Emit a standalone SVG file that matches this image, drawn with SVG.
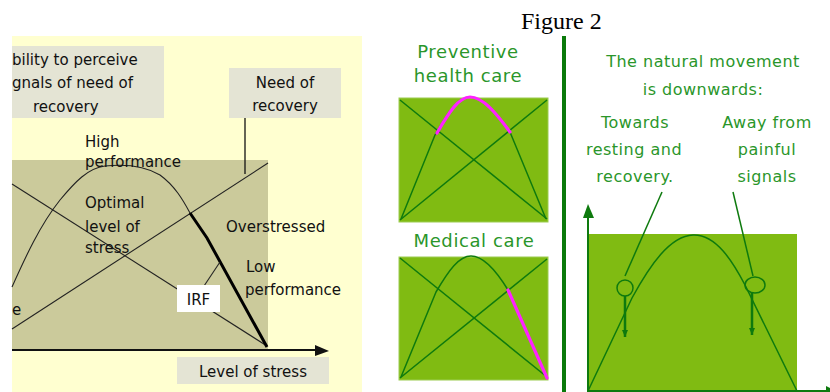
<svg xmlns="http://www.w3.org/2000/svg" width="830" height="392" viewBox="0 0 830 392">
  <style>
    .lbl { font-family: "DejaVu Sans", "Liberation Sans", sans-serif; font-size: 15px; fill: #111; }
    .mid { text-anchor: middle; }
    .grn { font-family: "DejaVu Sans", "Liberation Sans", sans-serif; fill: #2a962a; text-anchor: middle; }
    .thin { fill: none; stroke: #222; stroke-width: 1.1; }
    .dg { fill: none; stroke: #0e7a0e; stroke-width: 1.5; }
    .mag { fill: none; stroke: #ff22ff; stroke-width: 3.2; stroke-linecap: round; stroke-linejoin: round; }
    .panel { fill: #80bb12; }
  </style>
  <defs>
    <marker id="tipDown" markerWidth="8" markerHeight="8" refX="4" refY="7" orient="0" markerUnits="userSpaceOnUse">
      <path d="M1,0 L4,7 L7,0 Z" fill="#0e7a0e"/>
    </marker>
  </defs>

  <rect width="830" height="392" fill="#ffffff"/>

  <!-- left panel: stress and performance chart -->
  <g id="stress-chart">
    <rect x="12" y="36" width="350" height="356" fill="#ffffd0"/>
    <rect x="12" y="160" width="256" height="189" fill="#cbca9b"/>
  </g>

  <g id="box-ability">
    <rect x="12" y="46" width="152" height="72" fill="#e4e4d4"/>
    <text class="lbl" x="12" y="65">bility to perceive</text>
    <text class="lbl" x="12" y="88">gnals of need of</text>
    <text class="lbl" x="33" y="112">recovery</text>
  </g>

  <g id="box-need">
    <rect x="229" y="68" width="112" height="50" fill="#e4e4d4"/>
    <text class="lbl mid" x="285" y="88">Need of</text>
    <text class="lbl mid" x="285" y="111">recovery</text>
  </g>

  <!-- middle panel: two small charts -->
  <g id="preventive">
    <text class="grn" x="468" y="58" font-size="18" letter-spacing="0.6">Preventive</text>
    <text class="grn" x="468" y="82" font-size="18" letter-spacing="0.6">health care</text>
    <rect class="panel" x="399" y="98" width="149" height="124" stroke="#9ccc50" stroke-width="1"/>
  </g>
  <g id="medical">
    <text class="grn" x="474" y="247" font-size="18" letter-spacing="0.6">Medical care</text>
    <rect class="panel" x="399" y="257" width="149" height="123" stroke="#9ccc50" stroke-width="1"/>
  </g>

  <!-- right panel -->
  <g id="movement">
    <rect class="panel" x="588" y="234" width="209" height="158"/>
    <text class="grn" x="703" y="67" font-size="16" letter-spacing="0.5">The natural movement</text>
    <text class="grn" x="703" y="95" font-size="16" letter-spacing="0.5">is downwards:</text>
  </g>

  <g id="connectors">
    <!-- chart curves -->
    <line class="thin" x1="12" y1="184" x2="267" y2="346"/>
    <line class="thin" x1="12" y1="329" x2="268" y2="163"/>
    <path class="thin" d="M12,287 C25,258 40,225 60,200 C75,182 88,168 105,166 C125,164 145,166 160,175 C175,186 183,200 190,213"/>
    <path d="M190,213 L207,238 L267,347" fill="none" stroke="#000" stroke-width="3"/>
    <line class="thin" x1="220" y1="262" x2="204" y2="286"/>
    <line x1="245" y1="118" x2="245" y2="174" stroke="#111" stroke-width="1.3"/>
    <!-- stress axis -->
    <line x1="12" y1="350" x2="318" y2="350" stroke="#111" stroke-width="2"/>
    <path d="M315,345 L329,351 L315,356 Z" fill="#111"/>

    <!-- mini chart curves -->
    <line class="dg" x1="400" y1="100" x2="547" y2="219"/>
    <line class="dg" x1="400" y1="220" x2="547" y2="100"/>
    <path class="dg" d="M401,219 L435,135 C448,112 458,97 470,97 C483,97 496,113 510,132 L546,219"/>
    <path class="mag" d="M437,133 C449,112 459,97 470,97 C483,97 496,113 510,132"/>

    <line class="dg" x1="400" y1="258" x2="547" y2="377"/>
    <line class="dg" x1="400" y1="378" x2="547" y2="259"/>
    <path class="dg" d="M401,377 L436,292 C449,270 459,256 471,256 C484,256 497,272 508,290 L547,378"/>
    <path class="mag" d="M508,290 L547,378"/>

    <!-- right chart curves -->
    <path class="dg" d="M588,391 L632,298 C650,265 670,236 693,235 C716,234 733,262 745,285 L797,391"/>
    <line class="dg" x1="662" y1="192" x2="625" y2="276"/>
    <line class="dg" x1="733" y1="192" x2="753" y2="276"/>
    <line x1="625" y1="296" x2="625" y2="337" stroke="#0e7a0e" stroke-width="2.5" marker-end="url(#tipDown)"/>
    <line x1="752" y1="293" x2="752" y2="335" stroke="#0e7a0e" stroke-width="2.5" marker-end="url(#tipDown)"/>
    <line x1="588" y1="392" x2="588" y2="214" stroke="#0e7a0e" stroke-width="2"/>
    <path d="M583,218 L588,204 L594,218 Z" fill="#0e7a0e"/>
    <line x1="588" y1="391" x2="830" y2="391" stroke="#0e7a0e" stroke-width="2"/>
    <path d="M826,386 L830,388 L830,392 L826,392 Z" fill="#0e7a0e"/>
  </g>

  <g id="label-high">
    <text class="lbl" x="85" y="147">High</text>
    <text class="lbl" x="85" y="167">performance</text>
  </g>
  <g id="label-optimal">
    <text class="lbl" x="85" y="208">Optimal</text>
    <text class="lbl" x="85" y="232">level of</text>
    <text class="lbl" x="85" y="253">stress</text>
  </g>
  <g id="label-overstressed">
    <text class="lbl" x="226" y="232">Overstressed</text>
  </g>
  <g id="label-low">
    <text class="lbl" x="246" y="272">Low</text>
    <text class="lbl" x="245" y="295">performance</text>
  </g>
  <g id="box-irf">
    <rect x="177" y="285" width="43" height="27" fill="#ffffff"/>
    <text class="lbl mid" x="198.5" y="305">IRF</text>
  </g>
  <g id="label-e">
    <text class="lbl" x="12" y="315">e</text>
  </g>
  <g id="box-stress">
    <rect x="177" y="357" width="152" height="27" fill="#e4e4d4"/>
    <text class="lbl mid" x="253" y="377">Level of stress</text>
  </g>

  <!-- title and divider -->
  <g id="title">
    <text x="521" y="29" font-family="Liberation Serif, serif" font-size="24" fill="#000">Figure 2</text>
  </g>
  <g id="divider">
    <rect x="562" y="36" width="4" height="356" fill="#0a7a0a"/>
  </g>

  <g id="towards">
    <text class="grn" x="635" y="128" font-size="16" letter-spacing="0.5">Towards</text>
    <text class="grn" x="634" y="155" font-size="16" letter-spacing="0.5">resting and</text>
    <text class="grn" x="635" y="182" font-size="16" letter-spacing="0.5">recovery.</text>
    <ellipse class="dg" cx="625" cy="288" rx="8" ry="8"/>
  </g>
  <g id="away">
    <text class="grn" x="767" y="128" font-size="16" letter-spacing="0.5">Away from</text>
    <text class="grn" x="767" y="155" font-size="16" letter-spacing="0.5">painful</text>
    <text class="grn" x="767" y="182" font-size="16" letter-spacing="0.5">signals</text>
    <ellipse class="dg" cx="755" cy="285" rx="10" ry="8"/>
  </g>
</svg>
